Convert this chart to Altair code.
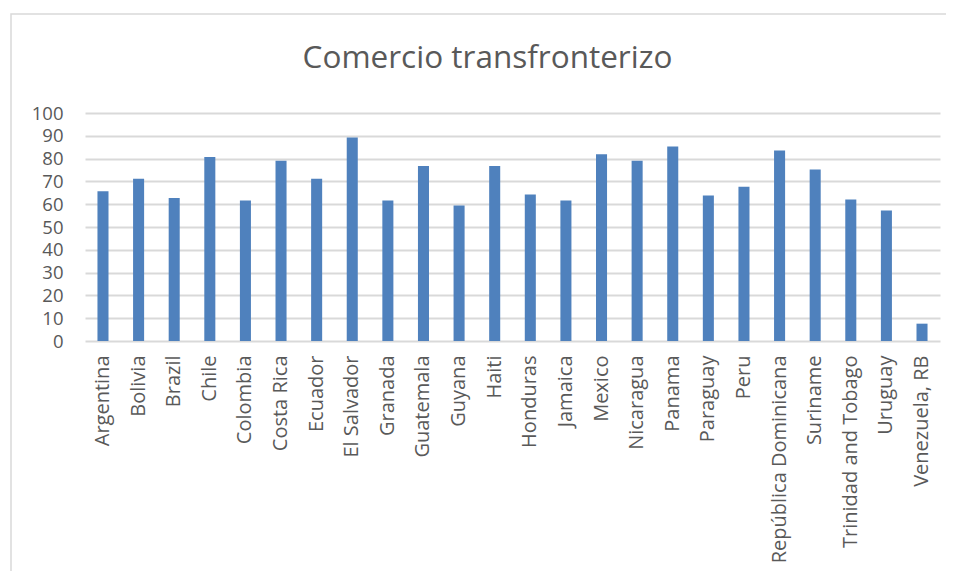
import altair as alt
import pandas as pd

countries = ["Argentina", "Bolivia", "Brazil", "Chile", "Colombia", "Costa Rica",
             "Ecuador", "El Salvador", "Granada", "Guatemala", "Guyana", "Haiti",
             "Honduras", "Jamaica", "Mexico", "Nicaragua", "Panama", "Paraguay",
             "Peru", "República Dominicana", "Suriname", "Trinidad and Tobago",
             "Uruguay", "Venezuela, RB"]
values = [65.7, 71.2, 62.7, 80.7, 61.6, 79.1,
          71.2, 89.2, 61.6, 76.8, 59.4, 76.8,
          64.3, 61.6, 81.9, 79.1, 85.3, 63.8,
          67.7, 83.5, 75.2, 62.1, 57.2, 7.6]
y_ticks = [0, 10, 20, 30, 40, 50, 60, 70, 80, 90, 100]

df = pd.DataFrame({"pais": countries, "valor": values})

FONT = "Open Sans"
TXT = "#595959"

bars = alt.Chart(df).mark_bar(color="#4f81bd").encode(
    x=alt.X("pais:N", sort=countries,
            scale=alt.Scale(paddingInner=0.69, paddingOuter=0.35),
            axis=alt.Axis(title=None, labelAngle=-90, labelFont=FONT, labelFontSize=20,
                          labelColor=TXT, ticks=False, domain=False, labelPadding=14,
                          labelLimit=0, labelAlign="right", labelBaseline="middle")),
    y=alt.Y("valor:Q", scale=alt.Scale(domain=[0, 100], nice=False),
            axis=alt.Axis(title=None, values=y_ticks, labelFont=FONT, labelFontSize=18.5,
                          labelColor=TXT, ticks=False, domain=False, labelPadding=22,
                          gridColor="#d9d9d9", gridWidth=1.8)),
)

frame = alt.Chart(pd.DataFrame({"a": [0]})).mark_rect(
    fill=None, stroke="#d9d9d9", strokeWidth=1.5, clip=False
).encode(x=alt.value(-74), x2=alt.value(900), y=alt.value(-99), y2=alt.value(467))

chart = alt.layer(frame, bars).properties(
    width=855, height=228,
    padding={"left": 77, "top": 105, "right": 6, "bottom": 230},
    autosize=alt.AutoSizeParams(type="none"),
    title=alt.TitleParams("Comercio transfronterizo", font=FONT, fontSize=31.5,
                          fontWeight="normal", color=TXT, anchor="middle",
                          frame="group", offset=-61, dx=-25),
).configure_view(stroke=None)

chart.save("out.html", embed_options={"renderer": "svg", "actions": False})
